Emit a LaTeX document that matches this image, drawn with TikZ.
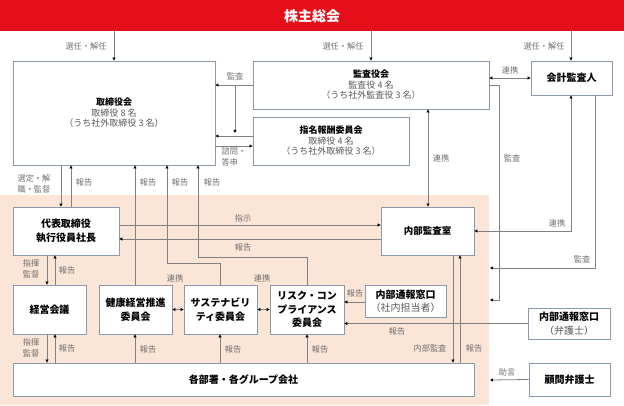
\documentclass[tikz,border=0pt]{standalone}
\usepackage{fontspec}
\setmainfont{Noto Sans CJK JP}
\usetikzlibrary{arrows.meta}
\definecolor{bannerred}{HTML}{E50F1A}
\definecolor{peach}{HTML}{FBE5D6}
\definecolor{boxline}{HTML}{8C99AC}
\definecolor{lineg}{HTML}{808080}
\definecolor{subg}{HTML}{595959}
\definecolor{lblg}{HTML}{707070}
\begin{document}
\begin{tikzpicture}[x=1pt,y=-1pt,
  bx/.style={draw=boxline, line width=0.8pt, fill=white, inner sep=0pt, align=center, font=\fontsize{10}{13.5}\selectfont\bfseries},
  tbx/.style={bx, font=\fontsize{9}{10.5}\selectfont\bfseries},
  ln/.style={draw=lineg, line width=0.8pt},
  arr/.style={ln, -{Triangle[length=3pt,width=3pt,color=black]}},
  darr/.style={ln, {Triangle[length=3pt,width=3pt,color=black]}-{Triangle[length=3pt,width=3pt,color=black]}},
  lbl/.style={text=lblg, font=\fontsize{8.2}{10.5}\selectfont, inner sep=0pt, align=left}]
\useasboundingbox (0,0) rectangle (624,406);
\fill[peach] (0,195) rectangle (489,405);
% nodes
\node[fill=bannerred, minimum width=624pt, minimum height=31pt, inner sep=0pt, anchor=north west, text=white, font=\fontsize{14}{14}\selectfont\bfseries] (kabu) at (0,0) {株主総会};
\node[tbx, minimum width=202pt, minimum height=104pt] (tori) at (114,113) {取締役会\\{\mdseries\color{subg}取締役 8 名}\\{\mdseries\color{subg}（うち社外取締役 3 名）}};
\node[tbx, minimum width=236pt, minimum height=48pt] (kansa) at (371,85) {監査役会\\{\mdseries\color{subg}監査役 4 名}\\{\mdseries\color{subg}（うち社外監査役 3 名）}};
\node[tbx, minimum width=156pt, minimum height=48pt] (shimei) at (331,141) {指名報酬委員会\\{\mdseries\color{subg}取締役 4 名}\\{\mdseries\color{subg}（うち社外取締役 3 名）}};
\node[bx, minimum width=81pt, minimum height=34pt] (kaikei) at (571.5,78) {会計監査人};
\node[bx, minimum width=106pt, minimum height=48pt] (daihyo) at (66,231) {代表取締役\\執行役員社長};
\node[bx, minimum width=93pt, minimum height=48pt, font=\fontsize{9.5}{13.5}\selectfont\bfseries] (naibu) at (427.5,231) {内部監査室};
\node[bx, minimum width=73pt, minimum height=49pt] (keiei) at (49.5,309.5) {経営会議};
\node[bx, minimum width=73pt, minimum height=49pt] (kenko) at (135.5,309.5) {健康経営推進\\委員会};
\node[bx, minimum width=73pt, minimum height=49pt] (susta) at (220.5,309.5) {サステナビリ\\ティ委員会};
\node[bx, minimum width=74pt, minimum height=49pt] (risk) at (307,309.5) {リスク・コン\\プライアンス\\委員会};
\node[bx, minimum width=81pt, minimum height=32pt] (tsuho1) at (405.5,301) {内部通報窓口\\{\mdseries\color{subg}（社内担当者）}};
\node[bx, minimum width=82pt, minimum height=31pt] (tsuho2) at (569,323.5) {内部通報窓口\\{\mdseries\color{subg}（弁護士）}};
\node[bx, minimum width=461pt, minimum height=33pt] (kakubu) at (243.5,379.5) {各部署・各グループ会社};
\node[bx, minimum width=81pt, minimum height=33pt] (komon) at (569.5,379.5) {顧問弁護士};
% top connectors
\draw[arr] (kabu.south -| 114,0) -- (tori.north -| 114,0);
\node[lbl] at (86,46) {選任・解任};
\draw[arr] (kabu.south -| 371,0) -- (kansa.north -| 371,0);
\node[lbl] at (343,46) {選任・解任};
\draw[arr] (kabu.south -| 571,0) -- (kaikei.north -| 571,0);
\node[lbl] at (544,46) {選任・解任};
\draw[arr] (kansa.west) -- (tori.east |- kansa.west);
\node[lbl] at (235,76) {監査};
\coordinate (j1) at (235,85);
\coordinate (j2) at (235,133);
\draw[arr] (j1) -- (j2);
\draw[arr] (shimei.west |- 0,136) -- (tori.east |- 0,136);
\draw[arr] (tori.east |- 0,146) -- (shimei.west |- 0,146);
\node[lbl] at (234,157) {諮問・\\答申};
\draw[darr] (kansa.east |- 0,78) -- (kaikei.west |- 0,78);
\node[lbl] at (510,70) {連携};
\draw[darr] (kansa.south -| 428,0) -- (naibu.north -| 428,0);
\node[lbl] at (441,158) {連携};
\coordinate (e1) at (490,300);
\draw[arr] (kansa.east) -- (499,85) |- (e1);
\node[lbl] at (512,158) {監査};
\draw[darr] (kaikei.south -| 571,0) |- (naibu.east);
\node[lbl] at (557,223) {連携};
\coordinate (e2) at (490,268);
\draw[arr] (kaikei.south -| 595,0) |- (e2);
\node[lbl] at (582,259) {監査};
% board to executive
\draw[arr] (tori.south -| 61,0) -- (daihyo.north -| 61,0);
\node[lbl] at (34,184) {選定・解\\職・監督};
\draw[arr] (daihyo.north -| 71,0) -- (tori.south -| 71,0);
\node[lbl] at (84,182) {報告};
\draw[arr] (kenko.north -| 135,0) -- (tori.south -| 135,0);
\node[lbl] at (148,182) {報告};
\draw[arr] (susta.north -| 220,0) -- (220,263) -| (tori.south -| 167,0);
\node[lbl] at (180,182) {報告};
\draw[arr] (risk.north -| 307,0) -- (307,257) -| (tori.south -| 198,0);
\node[lbl] at (212,182) {報告};
\draw[arr] (daihyo.east |- 0,225) -- (naibu.west |- 0,225);
\node[lbl] at (243,218) {指示};
\draw[arr] (naibu.west |- 0,239) -- (daihyo.east |- 0,239);
\node[lbl] at (243,247) {報告};
\draw[arr] (daihyo.south -| 47,0) -- (keiei.north -| 47,0);
\node[lbl] at (31,269) {指揮\\監督};
\draw[arr] (keiei.north -| 55,0) -- (daihyo.south -| 55,0);
\node[lbl] at (67,270) {報告};
\draw[darr] (kenko.east) -- (susta.west);
\draw[darr] (susta.east) -- (risk.west);
\node[lbl] at (175,278) {連携};
\node[lbl] at (262,278) {連携};
\draw[arr] (tsuho1.west |- 0,302) -- (risk.east |- 0,302);
\node[lbl] at (355,293) {報告};
\draw[arr] (tsuho2.west) -- (risk.east |- tsuho2.west);
\node[lbl] at (397,331) {報告};
% lower
\draw[arr] (keiei.south -| 47,0) -- (kakubu.north -| 47,0);
\node[lbl] at (31,348) {指揮\\監督};
\draw[arr] (kakubu.north -| 55,0) -- (keiei.south -| 55,0);
\node[lbl] at (67,348) {報告};
\draw[arr] (kakubu.north -| 135,0) -- (kenko.south -| 135,0);
\node[lbl] at (148,349) {報告};
\draw[arr] (kakubu.north -| 220,0) -- (susta.south -| 220,0);
\node[lbl] at (233,349) {報告};
\draw[arr] (kakubu.north -| 307,0) -- (risk.south -| 307,0);
\node[lbl] at (320,349) {報告};
\draw[arr] (naibu.south -| 453,0) -- (kakubu.north -| 453,0);
\node[lbl] at (430,348) {内部監査};
\draw[arr] (kakubu.north -| 460,0) -- (naibu.south -| 460,0);
\node[lbl] at (474,348) {報告};
\coordinate (e3) at (490,380);
\draw[arr] (komon.west) -- (e3);
\node[lbl] at (507,372) {助言};
\end{tikzpicture}
\end{document}
